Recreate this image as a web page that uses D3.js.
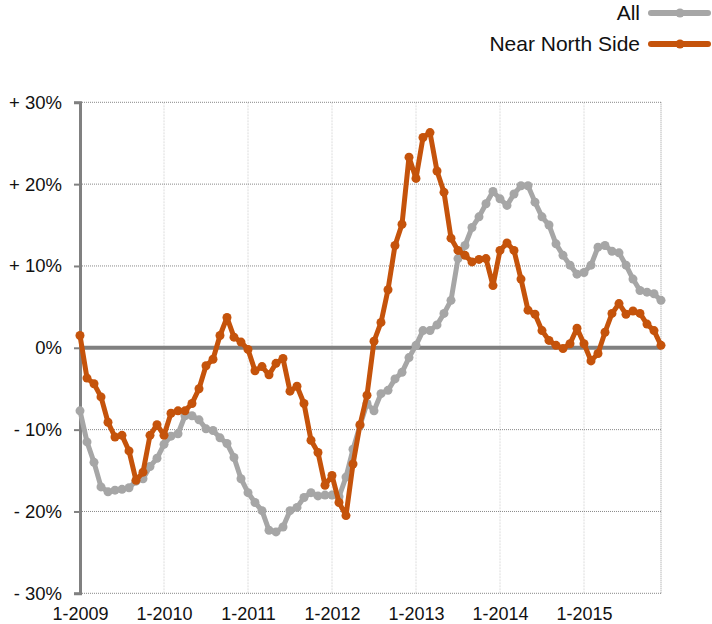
<!DOCTYPE html>
<html>
<head>
<meta charset="utf-8">
<script src="https://cdn.jsdelivr.net/npm/d3@7"></script>
<style>
  body { margin: 0; background: #fff; }
  svg { display: block; font-family: "Liberation Sans", Arial, sans-serif; }
</style>
</head>
<body>
<div id="chart"></div>
<script>
// monthly values, Jan 2009 .. Dec 2015 (percent change)
var allValues = [
  -7.7, -11.5, -14.0, -17.0, -17.6, -17.4, -17.3, -17.1, -16.3, -16.0, -14.5, -13.5,
  -11.8, -10.8, -10.5, -8.3, -8.3, -8.8, -9.9, -10.1, -11.0, -11.7, -13.4, -16.0,
  -17.7, -18.9, -19.9, -22.3, -22.5, -21.9, -19.9, -19.5, -18.3, -17.7, -18.1, -18.0,
  -18.0, -18.2, -15.8, -12.4, -9.5, -6.8, -7.7, -5.6, -5.2, -3.8, -3.0, -1.2,
  0.3, 2.1, 2.1, 2.8, 4.2, 5.8, 10.9, 12.5, 14.7, 16.0, 17.6, 19.1,
  18.2, 17.4, 18.8, 19.8, 19.8, 17.8, 16.0, 15.0, 12.7, 11.3, 10.1, 9.0,
  9.2, 10.1, 12.3, 12.5, 11.8, 11.6, 10.1, 8.4, 7.0, 6.8, 6.6, 5.8
];
var nnsValues = [
  1.5, -3.7, -4.4, -6.0, -9.1, -10.9, -10.7, -12.6, -16.2, -15.2, -10.7, -9.4,
  -10.7, -8.0, -7.7, -7.7, -6.8, -5.0, -2.2, -1.4, 1.5, 3.7, 1.3, 0.7,
  -0.2, -2.8, -2.3, -3.3, -1.9, -1.3, -5.3, -4.7, -6.8, -11.3, -12.8, -16.8,
  -15.6, -18.9, -20.5, -14.2, -9.4, -5.8, 0.8, 3.1, 7.1, 12.5, 15.1, 23.3,
  20.7, 25.7, 26.3, 21.6, 19.0, 13.4, 11.9, 11.3, 10.5, 10.8, 10.9, 7.6,
  11.9, 12.8, 11.9, 8.4, 4.6, 4.1, 2.1, 0.9, 0.3, -0.1, 0.5, 2.4,
  0.5, -1.6, -0.7, 1.9, 4.2, 5.4, 4.1, 4.5, 4.2, 2.9, 2.1, 0.3
];
var yearLabels = ['1-2009', '1-2010', '1-2011', '1-2012', '1-2013', '1-2014', '1-2015'];
var yTicks = [-30, -20, -10, 0, 10, 20, 30];
var seriesNames = ['All', 'Near North Side'];
var seriesColors = ['#a6a6a6', '#c5530b'];

var width = 712, height = 624;
var svg = d3.select('#chart').append('svg').attr('width', width).attr('height', height);

var x = d3.scaleLinear().domain([0, allValues.length - 1]).range([80, 661]);
var y = d3.scaleLinear().domain([-30, 30]).range([593.3, 102.3]);
var yearIdx = yearLabels.map(function(d, i) { return i * 12; });

// vertical grid
svg.append('g').selectAll('line').data(yearIdx.slice(1)).enter().append('line')
  .attr('x1', function(d) { return x(d); }).attr('x2', function(d) { return x(d); })
  .attr('y1', y(30)).attr('y2', y(-30))
  .attr('stroke', '#dcdcdc').attr('stroke-width', 1).attr('stroke-dasharray', '2,1');
svg.append('line')
  .attr('x1', x(allValues.length - 1)).attr('x2', x(allValues.length - 1))
  .attr('y1', y(30)).attr('y2', y(-30))
  .attr('stroke', '#999').attr('stroke-width', 1).attr('stroke-dasharray', '1,1');

// horizontal grid
svg.append('g').selectAll('line').data(yTicks.filter(function(d) { return d !== 0; })).enter().append('line')
  .attr('x1', x(0)).attr('x2', x(allValues.length - 1))
  .attr('y1', function(d) { return y(d); }).attr('y2', function(d) { return y(d); })
  .attr('stroke', '#888').attr('stroke-width', 1).attr('stroke-dasharray', '1,1');

// zero line
svg.append('line')
  .attr('x1', x(0)).attr('x2', x(allValues.length - 1))
  .attr('y1', y(0)).attr('y2', y(0))
  .attr('stroke', '#808080').attr('stroke-width', 4);

// y axis
var yAxis = d3.axisLeft(y).tickValues(yTicks).tickSize(6).tickPadding(12)
  .tickFormat(function(d) { return d > 0 ? '+ ' + d + '%' : d < 0 ? '- ' + (-d) + '%' : '0%'; });
var gy = svg.append('g').attr('transform', 'translate(' + x(0) + ',0)').call(yAxis);
gy.select('.domain').attr('stroke', '#808080').attr('stroke-width', 3);
gy.selectAll('.tick line').attr('stroke', '#808080').attr('stroke-width', 2);
gy.selectAll('text').attr('font-size', 18.5).attr('fill', '#111').attr('font-family', '"Liberation Sans", Arial, sans-serif');

// x axis
var xAxis = d3.axisBottom(x).tickValues(yearIdx).tickSize(0).tickPadding(14)
  .tickFormat(function(d, i) { return yearLabels[i]; });
var gx = svg.append('g').attr('transform', 'translate(0,' + y(-30) + ')').call(xAxis);
gx.select('.domain').remove();
gx.selectAll('text').attr('font-size', 18).attr('fill', '#111').attr('font-family', '"Liberation Sans", Arial, sans-serif');

// series
var line = d3.line().x(function(d, i) { return x(i); }).y(function(d) { return y(d); });
[allValues, nnsValues].forEach(function(vals, k) {
  var g = svg.append('g');
  g.append('path').datum(vals).attr('d', line)
    .attr('fill', 'none').attr('stroke', seriesColors[k]).attr('stroke-width', 5)
    .attr('stroke-linejoin', 'round').attr('stroke-linecap', 'round');
  g.selectAll('circle').data(vals).enter().append('circle')
    .attr('cx', function(d, i) { return x(i); }).attr('cy', function(d) { return y(d); })
    .attr('r', 4.5).attr('fill', seriesColors[k]);
});

// legend
var legendY = [13, 44];
seriesNames.forEach(function(name, k) {
  var lg = svg.append('g').attr('transform', 'translate(0,' + legendY[k] + ')');
  lg.append('text').attr('x', 640).attr('y', 0).attr('dy', '0.35em')
    .attr('text-anchor', 'end').attr('font-size', 21).attr('fill', '#111').text(name);
  lg.append('line').attr('x1', 651).attr('x2', 708).attr('y1', 0).attr('y2', 0)
    .attr('stroke', seriesColors[k]).attr('stroke-width', 6).attr('stroke-linecap', 'round');
  lg.append('circle').attr('cx', 680).attr('cy', 0).attr('r', 4.5).attr('fill', seriesColors[k]);
});
</script>
</body>
</html>
